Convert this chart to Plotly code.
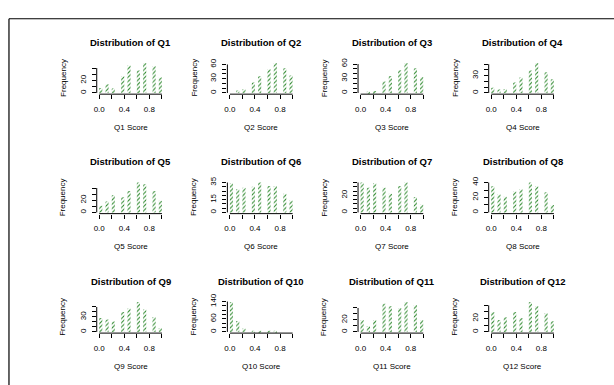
import math
import plotly.graph_objects as go

W, H = 614, 385

# Observed item score values (k/8) and response counts per question
scores = [0.0, 0.125, 0.25, 0.375, 0.5, 0.625, 0.75, 0.875, 1.0]
questions = ["Q1", "Q2", "Q3", "Q4", "Q5", "Q6", "Q7", "Q8", "Q9", "Q10", "Q11", "Q12"]
q1 = [8, 14, 7, 27, 44, 36, 48, 43, 25]
q2 = [0, 5, 8, 22, 35, 50, 63, 52, 37]
q3 = [0, 3, 4, 24, 35, 47, 62, 51, 33]
q4 = [9, 6, 7, 18, 27, 39, 52, 36, 24]
q5 = [11, 18, 28, 25, 35, 49, 46, 35, 19]
q6 = [34, 27, 29, 30, 35, 31, 31, 22, 14]
q7 = [35, 29, 34, 29, 22, 31, 35, 18, 9]
q8 = [35, 24, 21, 28, 31, 40, 35, 27, 10]
q9 = [28, 25, 21, 40, 47, 60, 45, 30, 8]
q10 = [138, 50, 16, 3, 3, 2, 2, 0, 0]
q11 = [20, 10, 20, 47, 43, 40, 50, 45, 20]
q12 = [30, 18, 22, 30, 21, 45, 39, 28, 16]
all_counts = [q1, q2, q3, q4, q5, q6, q7, q8, q9, q10, q11, q12]

# histogram breaks (R style, right-closed bins of width 0.05)
bin_width = 0.05
x_ticks = [0.0, 0.2, 0.4, 0.6, 0.8, 1.0]
x_labels = ["0.0", "", "0.4", "", "0.8", ""]

# y-axis tick step, top tick, and labelled ticks per panel
y_step = [10, 10, 10, 10, 10, 5, 5, 10, 10, 20, 10, 10]
y_top = [40, 60, 60, 50, 40, 35, 35, 40, 50, 140, 40, 40]
y_shown = [[0, 20], [0, 30, 60], [0, 30, 60], [0, 30], [0, 20], [0, 15, 35],
           [0, 20], [0, 20, 40], [0, 30], [0, 60, 140], [0, 20], [0, 20]]

FONT = "Liberation Sans, Arial, Helvetica, sans-serif"
GREEN = "#2f8a2f"

fig = go.Figure()
layout = dict(
    width=W, height=H, margin=dict(l=0, r=0, t=0, b=0),
    paper_bgcolor="white", plot_bgcolor="white", showlegend=False,
    font=dict(family=FONT, size=8, color="black"),
)
shapes = []
annotations = []

def bin_center(s):
    idx = 0 if s == 0 else int(math.ceil(s / bin_width - 1e-9)) - 1
    return idx * bin_width + bin_width / 2

for i, (q, cnt) in enumerate(zip(questions, all_counts)):
    n = i + 1
    sfx = "" if n == 1 else str(n)
    r, c = divmod(i, 4)
    x0px = 96.7 + 131.3 * c
    ppu = 63.0
    left = x0px - 0.04 * ppu
    right = x0px + 1.04 * ppu
    bottom = 88 + 122 * r
    top = bottom - 33
    M = max(cnt)
    xs = [bin_center(s) for s in scores]
    fig.add_trace(go.Bar(
        x=xs, y=cnt, width=bin_width,
        xaxis=f"x{sfx}", yaxis=f"y{sfx}",
        marker=dict(color="white", line=dict(width=0),
                    pattern=dict(shape="/", fgcolor=GREEN, bgcolor="white",
                                 size=3, solidity=0.35, fillmode="replace")),
        hoverinfo="skip",
    ))
    yt = list(range(0, y_top[i] + 1, y_step[i]))
    ytxt = [str(v) if v in y_shown[i] else "" for v in yt]
    layout[f"xaxis{sfx}"] = dict(
        domain=[left / W, right / W], anchor=f"y{sfx}", range=[-0.04, 1.04],
        tickvals=x_ticks, ticktext=x_labels, ticks="outside", ticklen=4,
        tickcolor="black", tickwidth=1, showgrid=False, zeroline=False,
        showline=False, ticklabelstandoff=3, tickfont=dict(size=8, family=FONT),
        fixedrange=True,
    )
    layout[f"yaxis{sfx}"] = dict(
        domain=[1 - bottom / H, 1 - top / H], anchor=f"x{sfx}",
        range=[-0.04 * M, 1.04 * M], tickvals=yt, ticktext=ytxt,
        ticks="outside", ticklen=4, tickcolor="black", tickwidth=1,
        showgrid=False, zeroline=False, showline=False, tickangle=-90,
        ticklabelstandoff=3, tickfont=dict(size=8, family=FONT), fixedrange=True,
    )
    shapes.append(dict(type="line", xref=f"x{sfx}", yref=f"y{sfx} domain",
                       x0=0, x1=1, y0=0, y1=0, line=dict(color="black", width=1)))
    shapes.append(dict(type="line", xref=f"x{sfx} domain", yref=f"y{sfx}",
                       x0=0, x1=0, y0=0, y1=y_top[i], line=dict(color="black", width=1)))
    cx = (x0px + 0.5 * ppu) / W
    annotations.append(dict(text=f"<b>Distribution of {q}</b>", x=cx, y=1 - (bottom - 53) / H,
                            xref="paper", yref="paper", showarrow=False,
                            xanchor="center", yanchor="middle",
                            font=dict(size=9.5, family=FONT, color="black")))
    annotations.append(dict(text=f"{q} Score", x=cx, y=1 - (bottom + 34) / H,
                            xref="paper", yref="paper", showarrow=False,
                            xanchor="center", yanchor="middle",
                            font=dict(size=8, family=FONT, color="black")))
    annotations.append(dict(text="Frequency", x=(left - 34) / W, y=1 - (bottom - 16.5) / H,
                            xref="paper", yref="paper", showarrow=False, textangle=-90,
                            xanchor="center", yanchor="middle",
                            font=dict(size=8, family=FONT, color="black")))

# outer frame (left and top edges visible)
shapes.append(dict(type="line", xref="paper", yref="paper", x0=6 / W, x1=1.02,
                   y0=1 - 11 / H, y1=1 - 11 / H, line=dict(color="black", width=1.2)))
shapes.append(dict(type="line", xref="paper", yref="paper", x0=6 / W, x1=6 / W,
                   y0=1 - 11 / H, y1=-0.02, line=dict(color="black", width=1.2)))

layout["shapes"] = shapes
layout["annotations"] = annotations
fig.update_layout(**layout)
fig.write_html("out.html",
               post_script="document.body.style.margin='0px';document.body.style.overflow='hidden';")
